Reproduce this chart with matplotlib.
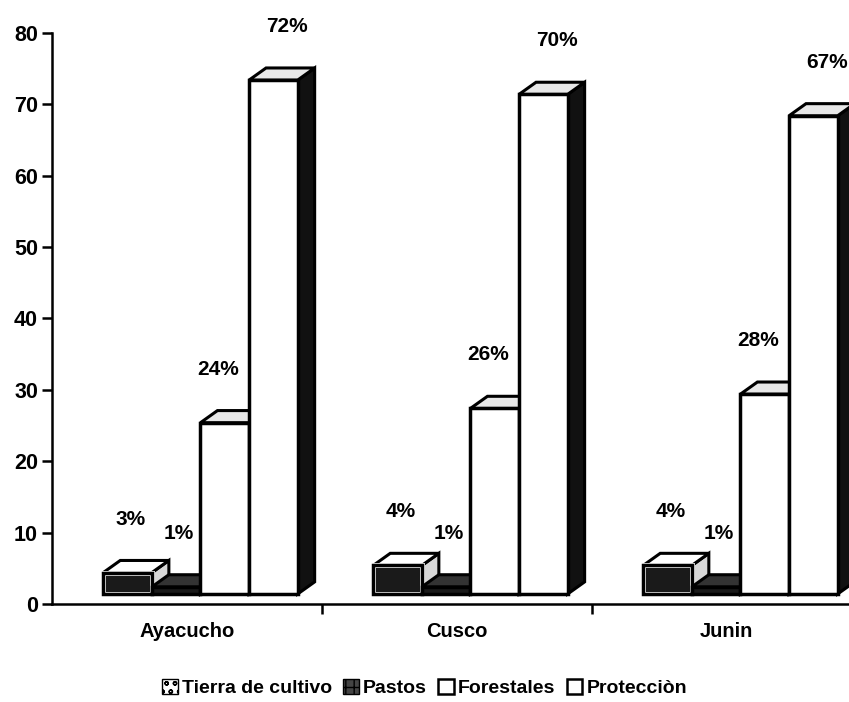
import numpy as np
import matplotlib.pyplot as plt
from matplotlib.patches import Polygon, Patch

regions = ["Ayacucho", "Cusco", "Junin"]
series = ["Tierra de cultivo", "Pastos", "Forestales", "Protecciòn"]
tierra = [3, 4, 4]
pastos = [1, 1, 1]
forestales = [24, 26, 28]
proteccion = [72, 70, 67]
values = [tierra, pastos, forestales, proteccion]
yticks = [0, 10, 20, 30, 40, 50, 60, 70, 80]

plt.rcParams['font.family'] = ['Liberation Sans', 'DejaVu Sans']
plt.rcParams['font.weight'] = 'bold'

fig = plt.figure(figsize=(8.49, 7.02), dpi=100)
ax = fig.add_axes([0.0612, 0.1396, 0.954, 0.8134])

width = 0.18
offsets = [-0.22, -0.04, 0.14, 0.32]
base = 1.4
dx, dy = 0.063, 1.7
front_col = ['#1a1a1a', '#1a1a1a', 'white', 'white']
top_col = ['white', '#333333', '#e8e8e8', '#e8e8e8']
side_col = ['#d8d8d8', '#222222', 'white', '#111111']
label_dx = [0.01, 0.01, -0.025, 0.05]
x = np.arange(len(regions)) + 0.5

for r in range(len(regions)):
    for s in range(len(series)):
        h = values[s][r]
        xc = x[r] + offsets[s]
        x0, x1 = xc - width / 2, xc + width / 2
        top = base + h
        # side face
        ax.add_patch(Polygon([(x1, base), (x1 + dx, base + dy), (x1 + dx, top + dy), (x1, top)],
                             closed=True, facecolor=side_col[s], edgecolor='black', lw=2.2, zorder=2 + s))
        # top face
        ax.add_patch(Polygon([(x0, top), (x0 + dx, top + dy), (x1 + dx, top + dy), (x1, top)],
                             closed=True, facecolor=top_col[s], edgecolor='black', lw=2.2, zorder=2 + s))
        # front face
        if s == 0:
            ax.bar(xc, h, width, bottom=base, color=front_col[s], edgecolor='white', lw=3.5, zorder=2 + s)
            ax.bar(xc, h, width, bottom=base, color='none', edgecolor='black', lw=2.5, zorder=2 + s)
        else:
            ax.bar(xc, h, width, bottom=base, color=front_col[s], edgecolor='black', lw=2.5, zorder=2 + s)
        ax.text(xc + label_dx[s], top + 7.5, f"{h}%", ha='center', va='center',
                fontsize=15, fontweight='bold', zorder=10)

ax.set_xlim(0, 3)
ax.set_ylim(0, 80)
ax.set_yticks(yticks)
ax.set_xticks([1, 2])
ax.set_xticklabels([])
ax.set_xticks(x, minor=True)
ax.set_xticklabels(regions, minor=True)
ax.tick_params(axis='x', which='minor', length=0, pad=13, labelsize=14.5)
ax.tick_params(axis='x', which='major', direction='out', length=7, width=1.8)
ax.tick_params(axis='y', direction='out', length=7, width=1.8, labelsize=15.5, pad=3)
for lab in ax.get_yticklabels() + ax.get_xticklabels(minor=True):
    lab.set_fontweight('bold')
ax.spines['top'].set_visible(False)
ax.spines['right'].set_visible(False)
ax.spines['left'].set_linewidth(1.8)
ax.spines['bottom'].set_linewidth(1.8)

handles = [Patch(facecolor='white', edgecolor='black', hatch='oo'),
           Patch(facecolor='#444444', edgecolor='black', hatch='++'),
           Patch(facecolor='white', edgecolor='black', lw=1.8),
           Patch(facecolor='white', edgecolor='black', lw=1.8)]
fig.legend(handles, series, loc='center', bbox_to_anchor=(0.5, 0.02), ncol=4, frameon=False,
           handlelength=0.8, handleheight=0.8, handletextpad=0.2, columnspacing=0.6,
           prop={'size': 14, 'weight': 'bold'})

fig.savefig("out.png", dpi=100)
plt.close()
